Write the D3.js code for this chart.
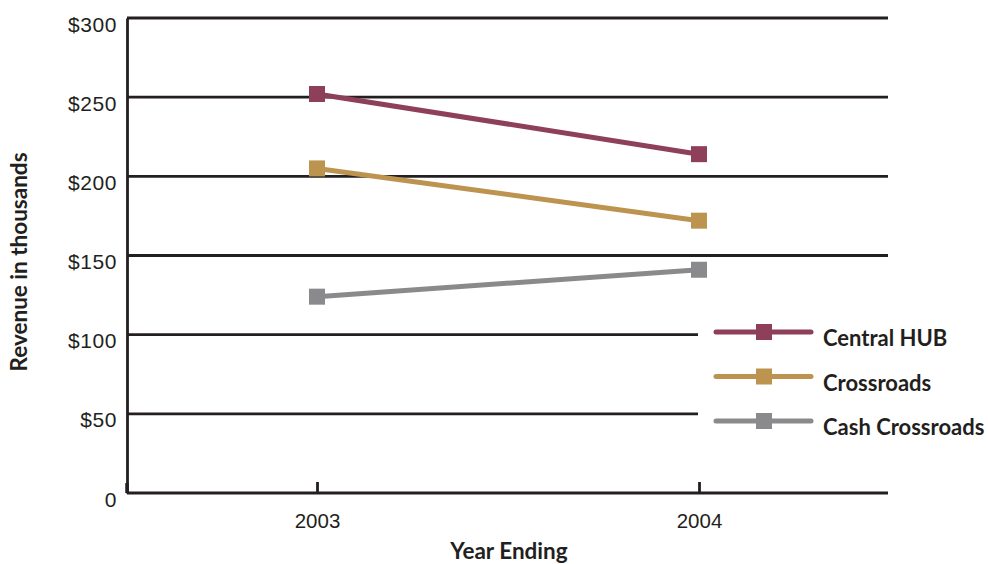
<!DOCTYPE html>
<html><head><meta charset="utf-8">
<script src="https://cdn.jsdelivr.net/npm/d3@7"></script>
<style>
html,body{margin:0;padding:0;background:#fff;}
svg{display:block;}
</style>
</head><body>
<svg id="chart" width="988" height="564"></svg>
<script>
const years = ["2003", "2004"];
const seriesNames = ["Central HUB", "Crossroads", "Cash Crossroads"];
const centralHub = [252, 214];
const crossroads = [205, 172];
const cashCrossroads = [124, 141];
const yTicks = [0, 50, 100, 150, 200, 250, 300];
const yTickLabels = ["0", "$50", "$100", "$150", "$200", "$250", "$300"];
const colors = ["#8e3f59", "#bd944f", "#8a8a8c"];

(function () {
const series = [centralHub, crossroads, cashCrossroads].map((v, i) => ({name: seriesNames[i], values: v, color: colors[i]}));

const svg = d3.select("#chart");
const mLeft = 127, mRight = 888, mTop = 18, mBottom = 493;
const x = d3.scalePoint().domain(years).range([317, 699]);
const y = d3.scaleLinear().domain([0, 300]).range([mBottom, mTop]);
const ink = "#231f20";
const tickFont = "'Liberation Sans', Arial, sans-serif";
const boldFont = "Lato, 'Open Sans', sans-serif";

// gridlines
const gridEnd = v => (v === 50 || v === 100) ? 698 : mRight;
svg.append("g").selectAll("line").data(yTicks.filter(d => d > 0)).join("line")
  .attr("x1", mLeft).attr("x2", d => gridEnd(d))
  .attr("y1", d => y(d)).attr("y2", d => y(d))
  .attr("stroke", ink).attr("stroke-width", 2.8);

// y axis
const yAxis = d3.axisLeft(y).tickValues(yTicks).tickFormat((d, i) => yTickLabels[i]).tickSize(0).tickPadding(10);
const gy = svg.append("g").attr("transform", `translate(${mLeft},0)`).call(yAxis);
gy.select(".domain").attr("stroke", ink).attr("stroke-width", 2.8);
gy.selectAll("text").attr("font-family", tickFont).attr("font-size", 21).attr("fill", ink)
  .attr("letter-spacing", 0.6).attr("dy", "0.62em");

// x axis
const xAxis = d3.axisBottom(x).tickSizeInner(-11).tickSizeOuter(0).tickPadding(20);
const gx = svg.append("g").attr("transform", `translate(0,${mBottom})`).call(xAxis);
gx.select(".domain").attr("d", `M${mLeft},0H${mRight}`).attr("stroke", ink).attr("stroke-width", 3);
gx.selectAll(".tick line").attr("stroke", ink).attr("stroke-width", 2.8);
gx.selectAll("text").attr("font-family", tickFont).attr("font-size", 20.5).attr("fill", ink);
svg.append("line").attr("x1", mLeft).attr("x2", mLeft).attr("y1", mBottom - 10).attr("y2", mBottom)
  .attr("stroke", ink).attr("stroke-width", 3.5);

// lines
const line = d3.line().x((d, i) => x(years[i])).y(d => y(d));
const gs = svg.append("g").selectAll("g").data(series).join("g");
gs.append("path").attr("d", d => line(d.values)).attr("fill", "none")
  .attr("stroke", d => d.color).attr("stroke-width", 5);
gs.selectAll("rect").data(d => d.values.map((v, i) => ({v, i, c: d.color}))).join("rect")
  .attr("x", d => x(years[d.i]) - 8).attr("y", d => y(d.v) - 8)
  .attr("width", 16).attr("height", 16).attr("fill", d => d.c);

// legend
const lg = svg.append("g").selectAll("g").data(series).join("g")
  .attr("transform", (d, i) => `translate(0,${332 + i * 44.5})`);
lg.append("line").attr("x1", 716).attr("x2", 811).attr("y1", 0).attr("y2", 0)
  .attr("stroke", d => d.color).attr("stroke-width", 5).attr("stroke-linecap", "round");
lg.append("rect").attr("x", 756).attr("y", -8).attr("width", 16).attr("height", 16).attr("fill", d => d.color);
lg.append("text").attr("x", 823).attr("y", 14).text(d => d.name)
  .attr("font-family", boldFont).attr("font-weight", "bold").attr("font-size", 22).attr("fill", ink);

// axis titles
svg.append("text").attr("transform", "translate(27,262) rotate(-90)").attr("text-anchor", "middle")
  .attr("font-family", boldFont).attr("font-weight", "bold").attr("font-size", 22.5).attr("fill", ink)
  .text("Revenue in thousands");
svg.append("text").attr("x", 509).attr("y", 559).attr("text-anchor", "middle")
  .attr("font-family", boldFont).attr("font-weight", "bold").attr("font-size", 22.5).attr("fill", ink)
  .text("Year Ending");
})();
</script>
</body></html>
